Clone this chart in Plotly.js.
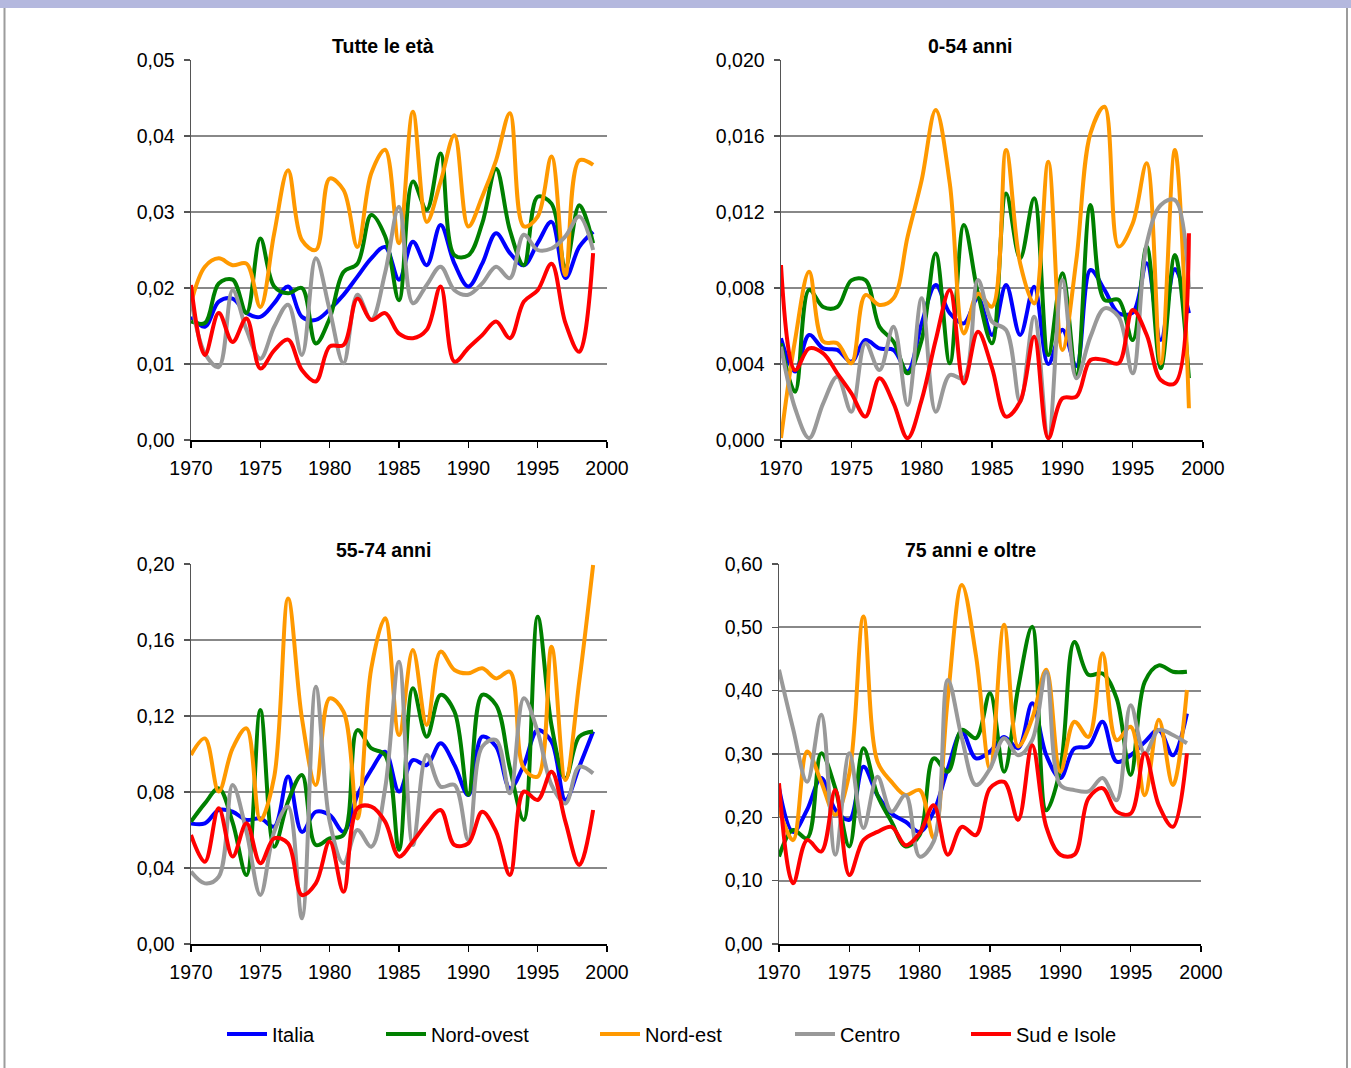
<!DOCTYPE html>
<html>
<head>
<meta charset="utf-8">
<script src="https://cdn.plot.ly/plotly-3.0.1.min.js"></script>
<style>
  html, body { margin: 0; padding: 0; background: #ffffff; }
  #chart { width: 1351px; height: 1068px; }
</style>
</head>
<body>
<div id="chart"></div>
<script>
// ---- Data ----
var years = [1970,1971,1972,1973,1974,1975,1976,1977,1978,1979,1980,1981,1982,1983,1984,1985,1986,1987,1988,1989,1990,1991,1992,1993,1994,1995,1996,1997,1998,1999];
var seriesNames = ["Italia", "Nord-ovest", "Nord-est", "Centro", "Sud e Isole"];
var panelTitles = ["Tutte le età", "0-54 anni", "55-74 anni", "75 anni e oltre"];

// Tutte le età
var italia1    = [0.0162,0.0149,0.0182,0.0186,0.0167,0.0162,0.0180,0.0202,0.0162,0.0158,0.0172,0.0191,0.0215,0.0239,0.0254,0.0211,0.0261,0.0230,0.0283,0.0232,0.0202,0.0232,0.0272,0.0246,0.0230,0.0259,0.0287,0.0213,0.0254,0.0274];
var nordovest1 = [0.0156,0.0154,0.0206,0.0211,0.0167,0.0265,0.0202,0.0193,0.0200,0.0127,0.0160,0.0221,0.0232,0.0296,0.0268,0.0184,0.0340,0.0303,0.0377,0.0243,0.0243,0.0285,0.0357,0.0276,0.0230,0.0320,0.0311,0.0228,0.0309,0.0259];
var nordest1   = [0.0180,0.0228,0.0239,0.0230,0.0232,0.0175,0.0272,0.0355,0.0263,0.0250,0.0344,0.0329,0.0254,0.0351,0.0382,0.0259,0.0432,0.0287,0.0340,0.0401,0.0281,0.0320,0.0368,0.0430,0.0281,0.0294,0.0373,0.0217,0.0368,0.0362];
var centro1    = [0.0186,0.0114,0.0096,0.0197,0.0145,0.0107,0.0149,0.0178,0.0112,0.0239,0.0171,0.0101,0.0191,0.0158,0.0220,0.0307,0.0180,0.0204,0.0228,0.0197,0.0191,0.0206,0.0228,0.0213,0.0270,0.0250,0.0252,0.0268,0.0294,0.0250];
var sud1       = [0.0204,0.0112,0.0167,0.0129,0.0160,0.0094,0.0118,0.0132,0.0092,0.0077,0.0123,0.0125,0.0186,0.0158,0.0167,0.0140,0.0134,0.0145,0.0202,0.0103,0.0121,0.0138,0.0156,0.0134,0.0182,0.0197,0.0232,0.0154,0.0116,0.0246];

// 0-54 anni
var italia2    = [0.00535,0.00360,0.00553,0.00482,0.00474,0.00412,0.00526,0.00482,0.00474,0.00360,0.00614,0.00816,0.00667,0.00614,0.00746,0.00553,0.00816,0.00553,0.00807,0.00400,0.00580,0.00390,0.00895,0.00790,0.00667,0.00670,0.00930,0.00526,0.00900,0.00667];
var nordovest2 = [0.00509,0.00254,0.00790,0.00700,0.00700,0.00840,0.00842,0.00596,0.00518,0.00351,0.00526,0.00982,0.00404,0.01132,0.00772,0.00509,0.01298,0.00956,0.01272,0.00447,0.00877,0.00342,0.01237,0.00737,0.00737,0.00526,0.01018,0.00377,0.00974,0.00325];
var nordest2   = [0.00010,0.00526,0.00886,0.00518,0.00509,0.00404,0.00763,0.00711,0.00746,0.01070,0.01368,0.01737,0.01350,0.00561,0.00770,0.00702,0.01526,0.00930,0.00719,0.01465,0.00474,0.00950,0.01614,0.01754,0.01018,0.01140,0.01456,0.00404,0.01526,0.00167];
var centro2    = [0.00491,0.00167,0.00010,0.00193,0.00333,0.00149,0.00509,0.00368,0.00596,0.00184,0.00746,0.00149,0.00342,0.00325,0.00842,0.00623,0.00579,0.00202,0.00649,0.00010,0.00842,0.00325,0.00544,0.00693,0.00649,0.00351,0.01035,0.01237,0.01263,0.00798];
var sud2       = [0.00921,0.00368,0.00482,0.00456,0.00351,0.00246,0.00123,0.00325,0.00193,0.00010,0.00211,0.00526,0.00790,0.00298,0.00570,0.00380,0.00123,0.00202,0.00544,0.00010,0.00219,0.00228,0.00421,0.00421,0.00404,0.00684,0.00553,0.00316,0.00298,0.01088];

// 55-74 anni
var italia3    = [0.0635,0.0635,0.0705,0.0696,0.0653,0.0661,0.0618,0.0881,0.0590,0.0696,0.0679,0.0591,0.0784,0.0916,0.1012,0.0802,0.0968,0.0942,0.1056,0.0942,0.0784,0.1091,0.1039,0.0819,0.0942,0.1126,0.1065,0.0758,0.0933,0.1118];
var nordovest3 = [0.0644,0.0740,0.0819,0.0640,0.0363,0.1232,0.0512,0.0750,0.0889,0.0521,0.0556,0.0574,0.1126,0.1030,0.0995,0.0495,0.1346,0.1091,0.1311,0.1223,0.0784,0.1311,0.1258,0.0925,0.0653,0.1723,0.1150,0.0872,0.1091,0.1118];
var nordest3   = [0.0995,0.1082,0.0802,0.1030,0.1135,0.0653,0.0880,0.1819,0.1188,0.0837,0.1293,0.1223,0.0661,0.1451,0.1714,0.1100,0.1547,0.1153,0.1539,0.1442,0.1425,0.1451,0.1398,0.1433,0.0925,0.0881,0.1565,0.0863,0.1381,0.1995];
var centro3    = [0.0381,0.0319,0.0354,0.0837,0.0591,0.0258,0.0591,0.0723,0.0135,0.1354,0.0644,0.0425,0.0600,0.0512,0.0819,0.1486,0.0521,0.0995,0.0828,0.0837,0.0547,0.1039,0.1074,0.0793,0.1293,0.1118,0.0837,0.0740,0.0933,0.0898];
var sud3       = [0.0574,0.0433,0.0714,0.0460,0.0635,0.0425,0.0556,0.0530,0.0258,0.0319,0.0539,0.0275,0.0714,0.0723,0.0644,0.0460,0.0539,0.0635,0.0705,0.0521,0.0530,0.0696,0.0591,0.0363,0.0802,0.0758,0.0907,0.0644,0.0416,0.0705];

// 75 anni e oltre
var italia4    = [0.246,0.177,0.212,0.262,0.212,0.196,0.280,0.235,0.206,0.193,0.177,0.209,0.277,0.335,0.293,0.304,0.327,0.309,0.380,0.298,0.262,0.309,0.312,0.351,0.288,0.298,0.319,0.338,0.298,0.364];
var nordovest4 = [0.138,0.180,0.167,0.301,0.246,0.154,0.309,0.235,0.193,0.154,0.172,0.293,0.272,0.338,0.325,0.396,0.272,0.404,0.501,0.211,0.277,0.477,0.425,0.427,0.388,0.267,0.414,0.440,0.430,0.430];
var nordest4   = [0.214,0.164,0.304,0.256,0.204,0.269,0.517,0.288,0.256,0.235,0.243,0.167,0.388,0.567,0.456,0.277,0.504,0.312,0.356,0.433,0.272,0.351,0.327,0.459,0.322,0.343,0.235,0.354,0.251,0.401];
var centro4    = [0.433,0.340,0.256,0.362,0.141,0.301,0.183,0.264,0.209,0.235,0.138,0.162,0.417,0.325,0.251,0.277,0.325,0.298,0.322,0.430,0.251,0.243,0.241,0.262,0.227,0.377,0.301,0.338,0.330,0.317];
var sud4       = [0.254,0.096,0.164,0.146,0.243,0.109,0.164,0.177,0.185,0.156,0.175,0.219,0.141,0.185,0.172,0.246,0.256,0.196,0.314,0.185,0.141,0.141,0.230,0.246,0.209,0.206,0.301,0.219,0.185,0.301];

var yMax    = [0.05, 0.020, 0.20, 0.60];
var yStep   = [0.01, 0.004, 0.04, 0.10];
var yFormat = [".2f", ".3f", ".2f", ".2f"];

// ---- Styles ----
var colors = ["#0000FF", "#008000", "#FF9900", "#999999", "#FF0000"];
var W = 1351, H = 1068;
var FONT = "Arial, 'Liberation Sans', sans-serif";

var panels = [
  [italia1, nordovest1, nordest1, centro1, sud1],
  [italia2, nordovest2, nordest2, centro2, sud2],
  [italia3, nordovest3, nordest3, centro3, sud3],
  [italia4, nordovest4, nordest4, centro4, sud4]
];

// pixel boxes of each plot area [left, right, top, bottom]
var boxes = [
  [191, 607, 60, 440],
  [781, 1203, 60, 440],
  [191, 607, 564, 944],
  [779, 1201, 564, 944]
];
var titlePos = [[383, 46], [971, 46], [383, 550], [970, 550]];
var legendLeft = [222, 381, 595, 790, 966];

var traces = [];
panels.forEach(function (series, p) {
  var sfx = p === 0 ? "" : String(p + 1);
  series.forEach(function (vals, s) {
    traces.push({
      type: "scatter",
      mode: "lines",
      x: years,
      y: vals,
      name: seriesNames[s],
      legendgroup: seriesNames[s],
      legend: s === 0 ? "legend" : "legend" + (s + 1),
      showlegend: p === 0,
      xaxis: "x" + sfx,
      yaxis: "y" + sfx,
      line: { color: colors[s], width: 4, shape: "spline", smoothing: 1 },
      hoverinfo: "x+y+name"
    });
  });
});

var layout = {
  width: W,
  height: H,
  margin: { l: 0, r: 0, t: 0, b: 0 },
  paper_bgcolor: "#ffffff",
  plot_bgcolor: "#ffffff",
  separators: ",.",
  font: { family: FONT, size: 19.5, color: "#000000" },
  showlegend: true,
  annotations: [],
  shapes: [
    { type: "rect", xref: "paper", yref: "paper", x0: 0, x1: 1, y0: 1 - 8 / H, y1: 1,
      fillcolor: "#b4b8de", line: { width: 0 }, layer: "below" },
    { type: "line", xref: "paper", yref: "paper", x0: 4.5 / W, x1: 4.5 / W, y0: 0, y1: 1 - 8 / H,
      line: { color: "#9c9c9c", width: 2 } },
    { type: "line", xref: "paper", yref: "paper", x0: 1347 / W, x1: 1347 / W, y0: 0, y1: 1 - 8 / H,
      line: { color: "#9c9c9c", width: 2 } }
  ]
};

legendLeft.forEach(function (lx, s) {
  var key = s === 0 ? "legend" : "legend" + (s + 1);
  layout[key] = {
    orientation: "h",
    x: lx / W,
    xanchor: "left",
    y: 1 - 1034 / H,
    yanchor: "middle",
    font: { family: FONT, size: 20, color: "#000000" },
    bgcolor: "rgba(0,0,0,0)",
    itemwidth: 40
  };
});

boxes.forEach(function (b, p) {
  var sfx = p === 0 ? "" : String(p + 1);
  layout["xaxis" + sfx] = {
    domain: [b[0] / W, b[1] / W],
    anchor: "y" + sfx,
    range: [1970, 2000],
    tick0: 1970,
    dtick: 5,
    showgrid: false,
    zeroline: false,
    showline: true,
    linecolor: "#000000",
    linewidth: 1.5,
    ticks: "outside",
    ticklen: 6,
    tickwidth: 1.5,
    tickcolor: "#000000",
    ticklabelstandoff: 4,
    tickfont: { family: FONT, size: 19.5, color: "#000000" },
    fixedrange: true
  };
  layout["yaxis" + sfx] = {
    domain: [1 - b[3] / H, 1 - b[2] / H],
    anchor: "x" + sfx,
    range: [0, yMax[p]],
    tick0: 0,
    dtick: yStep[p],
    tickformat: yFormat[p],
    showgrid: true,
    gridcolor: "#888888",
    gridwidth: 2,
    zeroline: false,
    showline: true,
    linecolor: "#555555",
    linewidth: 1.5,
    ticks: "outside",
    ticklen: 6,
    tickwidth: 1.5,
    tickcolor: "#555555",
    ticklabelstandoff: 5,
    tickfont: { family: FONT, size: 19.5, color: "#000000" },
    fixedrange: true
  };
  layout.annotations.push({
    xref: "paper", yref: "paper",
    x: titlePos[p][0] / W, y: 1 - titlePos[p][1] / H,
    xanchor: "center", yanchor: "middle",
    text: panelTitles[p],
    showarrow: false,
    font: { family: FONT, size: 19.5, color: "#000000", weight: "bold" }
  });
});

Plotly.newPlot("chart", traces, layout, { staticPlot: true, displayModeBar: false });
</script>
</body>
</html>
